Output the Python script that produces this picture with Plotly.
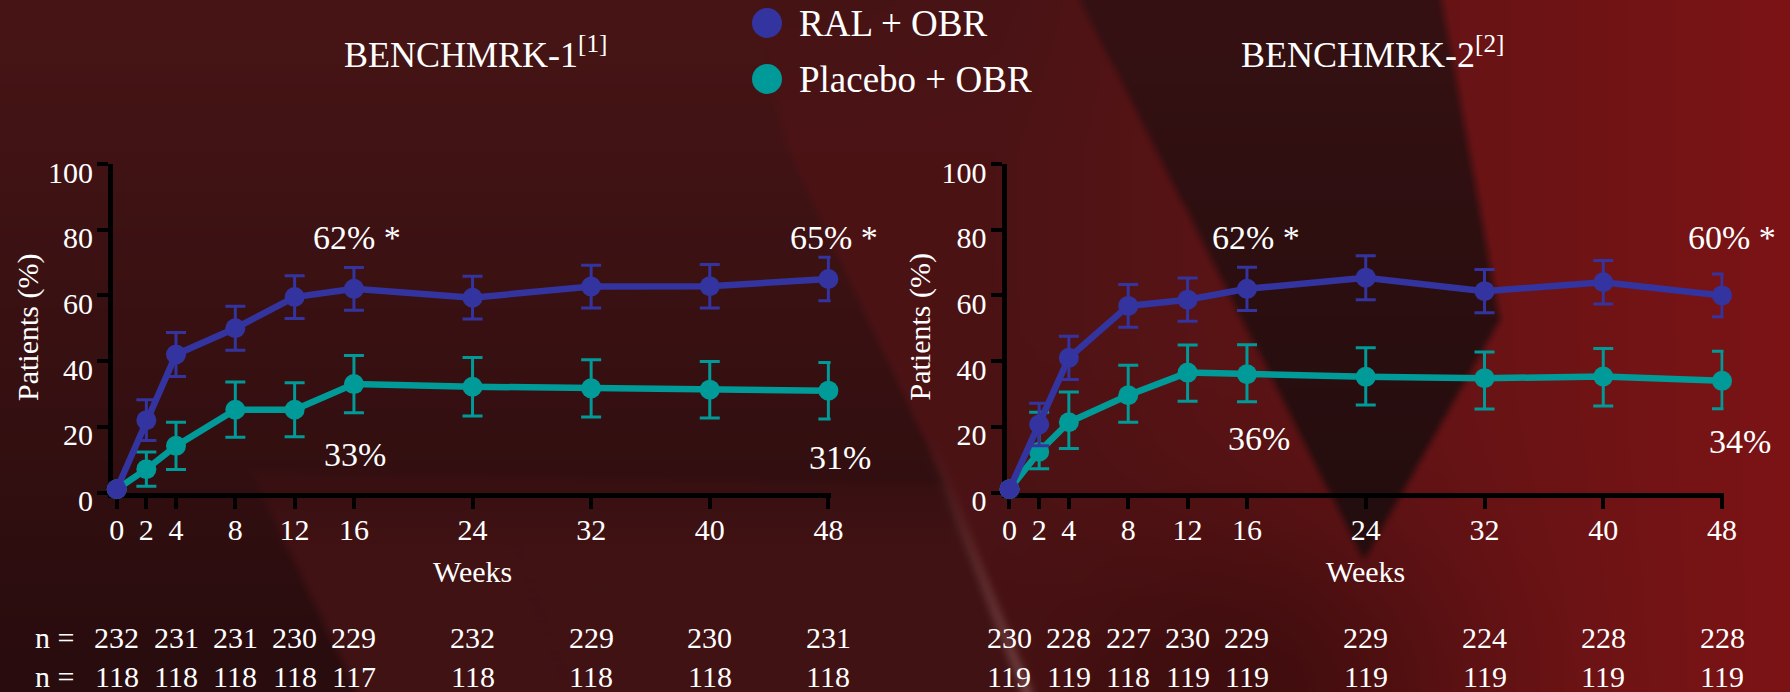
import base64
import struct
import zlib

import numpy as np
import plotly.graph_objects as go

W, H = 1790, 692
FONT = "Liberation Serif"
BLUE = "#3434a0"
TEAL = "#009a98"

# ---------------------------------------------------------------- data
weeks = [0, 2, 4, 8, 12, 16, 24, 32, 40, 48]
n_weeks = [0, 4, 8, 12, 16, 24, 32, 40, 48]

b1_ral = [1, 22, 42, 50, 59.5, 62, 59.3, 62.7, 62.8, 65]
b1_ral_err = [0, 6.2, 6.7, 6.7, 6.5, 6.5, 6.5, 6.5, 6.6, 6.6]
b1_pbo = [1, 7.1, 14.2, 25.2, 25.2, 33, 32.2, 31.7, 31.3, 31]
b1_pbo_err = [0, 5.2, 7.2, 8.4, 8.2, 8.7, 8.9, 8.7, 8.6, 8.6]

b2_ral = [1, 20.7, 41, 56.8, 58.7, 62, 65.4, 61.3, 64, 60]
b2_ral_err = [0, 6.5, 6.6, 6.5, 6.6, 6.6, 6.7, 6.6, 6.6, 6.5]
b2_pbo = [1, 12.4, 21.4, 29.6, 36.5, 36, 35.2, 34.8, 35.3, 34]
b2_pbo_err_hi = [0, 12, 9.2, 9.1, 8.4, 9.0, 8.9, 8.0, 8.5, 9.0]
b2_pbo_err_lo = [0, 5.2, 8.0, 8.2, 8.7, 8.4, 8.6, 9.4, 9.0, 8.5]

b1_n_ral = [232, 231, 231, 230, 229, 232, 229, 230, 231]
b1_n_pbo = [118, 118, 118, 118, 117, 118, 118, 118, 118]
b2_n_ral = [230, 228, 227, 230, 229, 229, 224, 228, 228]
b2_n_pbo = [119, 119, 118, 119, 119, 119, 119, 119, 119]

series_names = ["RAL + OBR", "Placebo + OBR"]
titles = ["BENCHMRK-1<sup>[1]</sup>", "BENCHMRK-2<sup>[2]</sup>"]


# ---------------------------------------------------------- background
def png_data_uri(rgb):
    h, w, _ = rgb.shape
    raw = b"".join(b"\x00" + rgb[r].tobytes() for r in range(h))

    def chunk(tag, data):
        body = tag + data
        return struct.pack(">I", len(data)) + body + struct.pack(">I", zlib.crc32(body) & 0xFFFFFFFF)

    png = (b"\x89PNG\r\n\x1a\n"
           + chunk(b"IHDR", struct.pack(">IIBBBBB", w, h, 8, 2, 0, 0, 0))
           + chunk(b"IDAT", zlib.compress(raw, 9))
           + chunk(b"IEND", b""))
    return "data:image/png;base64," + base64.b64encode(png).decode()


S = 2
gw, gh = W // S, H // S
X, Y = np.meshgrid((np.arange(gw) + 0.5) * S, (np.arange(gh) + 0.5) * S)


def lerp(c0, c1, t):
    t = np.clip(t, 0, 1)[..., None]
    return np.array(c0, float) * (1 - t) + np.array(c1, float) * t


def poly_mask(pts):
    inside = np.zeros(X.shape, bool)
    n = len(pts)
    for i in range(n):
        x1, y1 = pts[i]
        x2, y2 = pts[(i + 1) % n]
        if y1 == y2:
            continue
        cond = (y1 > Y) != (y2 > Y)
        xin = x1 + (Y - y1) * (x2 - x1) / (y2 - y1)
        inside ^= cond & (X < xin)
    return inside


def blend(base, color, alpha):
    a = np.clip(alpha, 0, 1)[..., None]
    return base * (1 - a) + color * a


# dark maroon field, fading towards the bottom
bg = lerp((72, 21, 22), (40, 12, 14), Y / H)

# lighter lower-middle area
mid = poly_mask([(250, 470), (356, 692), (1027, 692), (946, 485)])
bg = blend(bg, lerp((64, 18, 20), (64, 18, 20), Y), mid * np.clip((Y - 430) / 110, 0, 1))

# red ribbon and right-hand red field
red = poly_mask([(760, -10), (1800, -10), (1800, 700), (1027, 700), (946, 485), (786, 146), (770, 80)])
red_col = lerp((76, 19, 21), (124, 20, 22), (X - 1000) / 790)
top_fade = np.clip((150 - Y) / 150, 0, 1) * np.clip((1150 - X) / 300, 0, 1)
red_col = blend(red_col, lerp((70, 20, 22), (70, 20, 22), Y), top_fade)
shadow = np.exp(-(((X - 1250) / 220) ** 2) - (((Y - 692) / 170) ** 2))
red_col = red_col * (1 - 0.3 * shadow)[..., None]
bg = blend(bg, red_col, red.astype(float))

# dark wedge
wedge = poly_mask([(1075, -10), (1440, -10), (1500, 320), (1364, 560)])
wedge_col = lerp((54, 17, 19), (36, 13, 14), Y / 520)
bg = blend(bg, wedge_col, wedge.astype(float))

# soft highlight along the ribbon edge
d = np.abs((X - (946 + (Y - 485) * (1027 - 946) / (692 - 485))))
streak = np.exp(-(d / 6) ** 2) * np.clip((Y - 440) / 250, 0, 1)
bg = blend(bg, lerp((150, 105, 105), (150, 105, 105), Y), 0.55 * streak)


def box_blur(a, r):
    out = a.copy()
    for axis in (0, 1):
        pad = [(0, 0)] * 3
        pad[axis] = (r, r)
        p = np.pad(out, pad, mode="edge")
        c = np.cumsum(p, axis=axis, dtype=float)
        c = np.concatenate([np.zeros_like(np.take(c, [0], axis=axis)), c], axis=axis)
        n = out.shape[axis]
        out = (np.take(c, np.arange(2 * r + 1, 2 * r + 1 + n), axis=axis)
               - np.take(c, np.arange(0, n), axis=axis)) / (2 * r + 1)
    return out


bg = box_blur(bg, 2)
bg_uri = png_data_uri(np.clip(bg, 0, 255).astype(np.uint8))

# ---------------------------------------------------------------- axes
Y_DOM = [1 - 492.5 / H, 1 - 164 / H]
X1_DOM, X1_RNG = [113 / W, 830.6 / W], [-0.25, 48.15]
X2_DOM, X2_RNG = [1006.5 / W, 1723.5 / W], [-0.2, 48.1]


def to_px(v, dom, rng):
    return dom[0] + (v - rng[0]) / (rng[1] - rng[0]) * (dom[1] - dom[0])


def xp(panel, v):
    return to_px(v, X1_DOM, X1_RNG) if panel == 1 else to_px(v, X2_DOM, X2_RNG)


def yp(v):
    return to_px(v, Y_DOM, [0, 100])


# ---------------------------------------------------------------- figure
fig = go.Figure()


def add_series(xa, ya, y, hi, lo, color, name):
    fig.add_trace(go.Scatter(
        x=weeks, y=y, xaxis=xa, yaxis=ya, name=name, mode="lines+markers",
        line=dict(color=color, width=6.5),
        marker=dict(color=color, size=20),
        error_y=dict(type="data", symmetric=False, array=hi, arrayminus=lo,
                     color=color, thickness=3, width=10),
        cliponaxis=False, showlegend=False, hoverinfo="skip"))


add_series("x", "y", b1_pbo, b1_pbo_err, b1_pbo_err, TEAL, series_names[1])
add_series("x", "y", b1_ral, b1_ral_err, b1_ral_err, BLUE, series_names[0])
add_series("x2", "y2", b2_pbo, b2_pbo_err_hi, b2_pbo_err_lo, TEAL, series_names[1])
add_series("x2", "y2", b2_ral, b2_ral_err, b2_ral_err, BLUE, series_names[0])

tick_font = dict(family=FONT, size=30, color="white")
xcommon = dict(tickmode="array", tickvals=weeks, ticktext=[str(w) for w in weeks],
               showgrid=False, zeroline=False, showline=True, linecolor="black",
               linewidth=5, ticks="outside", ticklen=11, tickwidth=4, tickcolor="black",
               tickfont=tick_font, ticklabelstandoff=-5, layer="below traces", fixedrange=True)
ycommon = dict(range=[0, 100], tickmode="array", tickvals=[0, 20, 40, 60, 80, 100],
               showgrid=False, zeroline=False, showline=True, linecolor="black",
               linewidth=5, ticks="outside", ticklen=11, tickwidth=4, tickcolor="black",
               tickfont=tick_font, ticklabelstandoff=-2, ticklabelshift=8,
               layer="below traces", fixedrange=True)

fig.update_layout(
    xaxis=dict(domain=X1_DOM, range=X1_RNG, anchor="y", **xcommon),
    yaxis=dict(domain=Y_DOM, anchor="x", **ycommon),
    xaxis2=dict(domain=X2_DOM, range=X2_RNG, anchor="y2", **xcommon),
    yaxis2=dict(domain=Y_DOM, anchor="x2", **ycommon),
)

ann = []


def text(x, y, s, size, xanchor="center", angle=0):
    ann.append(dict(x=x, y=y, xref="paper", yref="paper", text=s, showarrow=False,
                    xanchor=xanchor, yanchor="middle", textangle=angle,
                    font=dict(family=FONT, size=size, color="white")))


# panel titles
text(475 / W, 1 - 52 / H, titles[0], 36)
text(1372 / W, 1 - 52 / H, titles[1], 36)

# axis titles
text(27.5 / W, 1 - 327.5 / H, "Patients (%)", 30, angle=-90)
text(919 / W, 1 - 327.5 / H, "Patients (%)", 30, angle=-90)
text(xp(1, 24), 1 - 571 / H, "Weeks", 30)
text(xp(2, 24), 1 - 571 / H, "Weeks", 30)


# response rates at week 16 and week 48
def pct(v, star=False):
    return f"{v:.0f}%" + (" *" if star else "")


text(xp(1, 16.2), yp(77.5), pct(b1_ral[5], True), 34)
text(xp(1, 48.4), yp(77.5), pct(b1_ral[9], True), 34)
text(xp(1, 16.1), yp(11.7), pct(b1_pbo[5]), 34)
text(xp(1, 48.8), yp(10.8), pct(b1_pbo[9]), 34)
text(xp(2, 16.6), yp(77.5), pct(b2_ral[5], True), 34)
text(xp(2, 48.7), yp(77.5), pct(b2_ral[9], True), 34)
text(xp(2, 16.8), yp(16.3), pct(b2_pbo[5]), 34)
text(xp(2, 49.2), yp(15.4), pct(b2_pbo[9]), 34)

# patients at each visit
ROW1, ROW2 = 1 - 637 / H, 1 - 676 / H
text(54 / W, ROW1, "n =", 30)
text(54 / W, ROW2, "n =", 30)
for wk, a, b in zip(n_weeks, b1_n_ral, b1_n_pbo):
    text(xp(1, wk), ROW1, str(a), 30)
    text(xp(1, wk), ROW2, str(b), 30)
for wk, a, b in zip(n_weeks, b2_n_ral, b2_n_pbo):
    text(xp(2, wk), ROW1, str(a), 30)
    text(xp(2, wk), ROW2, str(b), 30)

# legend
shapes = []
for (ly, name, col) in [(23, series_names[0], BLUE), (79, series_names[1], TEAL)]:
    shapes.append(dict(type="circle", xref="paper", yref="paper",
                       xsizemode="pixel", ysizemode="pixel",
                       xanchor=767 / W, yanchor=1 - ly / H,
                       x0=-15, x1=15, y0=-15, y1=15,
                       fillcolor=col, line=dict(width=0)))
    text(797 / W, 1 - (ly + 1) / H, name, 37, xanchor="left")

fig.update_layout(
    width=W, height=H, autosize=False,
    margin=dict(l=0, r=0, t=0, b=0, autoexpand=False),
    paper_bgcolor="#3a1214", plot_bgcolor="rgba(0,0,0,0)",
    showlegend=False, annotations=ann, shapes=shapes,
    images=[dict(source=bg_uri, xref="paper", yref="paper", x=0, y=1,
                 sizex=1, sizey=1, xanchor="left", yanchor="top",
                 sizing="stretch", layer="below")],
)

fig.write_html("out.html", config={"displayModeBar": False})
